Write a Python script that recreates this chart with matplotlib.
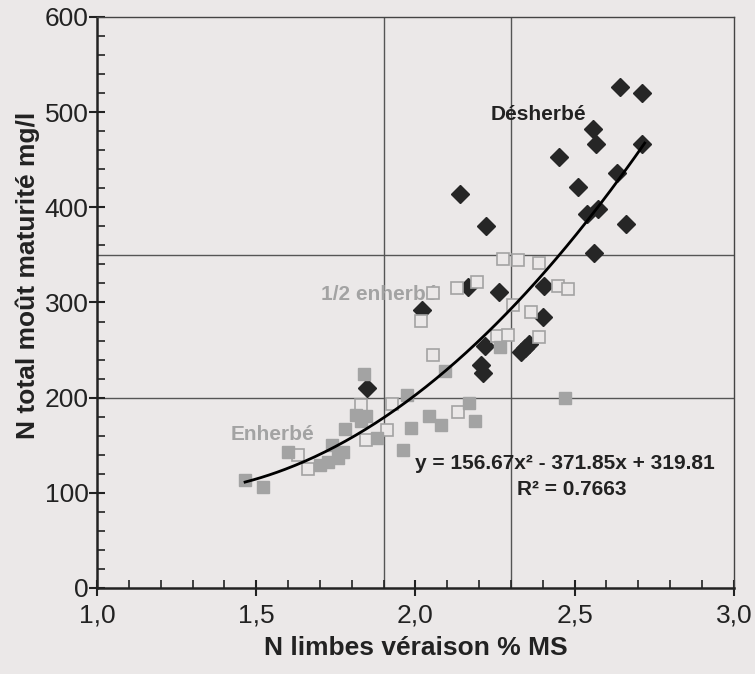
import numpy as np
import matplotlib
matplotlib.use("Agg")
import matplotlib.pyplot as plt
from matplotlib.ticker import MultipleLocator, FuncFormatter

plt.rcParams['font.family'] = ['Liberation Sans', 'DejaVu Sans']

# Désherbé (losanges noirs)
desherbe_x = [2.642, 2.711, 2.557, 2.567, 2.711, 2.451, 2.633, 2.510, 2.140, 2.538,
              2.573, 2.661, 2.221, 2.560, 2.165, 2.262, 2.403, 2.400, 2.218, 2.205,
              2.213, 2.331, 2.345, 2.358, 2.020, 1.848]
desherbe_y = [526, 520, 482, 467, 467, 453, 436, 421, 414, 393,
              398, 382, 380, 352, 316, 311, 317, 285, 254, 234,
              226, 248, 252, 256, 292, 210]

# 1/2 enherbé (carrés vides)
demi_x = [2.275, 2.322, 2.388, 2.193, 2.130, 2.447, 2.479, 2.306, 2.362, 2.256,
          2.290, 2.388, 2.055, 2.017, 2.055, 1.829, 1.926, 1.910, 1.845, 2.133,
          1.631, 1.663]
demi_y = [346, 345, 341, 322, 315, 317, 314, 297, 290, 265,
          266, 264, 310, 281, 245, 192, 193, 166, 155, 185,
          140, 125]

# Enherbé (carrés gris pleins)
enherbe_x = [1.465, 1.521, 1.600, 1.700, 1.725, 1.757, 1.772, 1.738, 1.779, 1.813,
             1.845, 1.830, 1.879, 1.960, 1.986, 1.973, 2.042, 2.080, 2.168, 2.187,
             2.470, 2.265, 2.093, 1.840]
enherbe_y = [113, 106, 143, 129, 132, 137, 143, 150, 167, 182,
             181, 176, 158, 145, 168, 203, 181, 171, 194, 176,
             200, 253, 228, 225]

# courbe de tendance polynomiale
coef = [156.67, -371.85, 319.81]
x_min, x_max = 1.465, 2.72

fond = '#ebe8e8'
gris = '#a3a3a3'
noir = '#222222'

fig = plt.figure(figsize=(7.55, 6.74), dpi=100, facecolor=fond)
ax = fig.add_axes([0.1285, 0.1276, 0.8435, 0.8472], facecolor=fond)

# lignes de repère
for xv in [1.9, 2.3]:
    ax.axvline(xv, color='#555555', lw=1, zorder=1)
for yv in [200, 350]:
    ax.axhline(yv, color='#555555', lw=1, zorder=1)

ax.plot(desherbe_x, desherbe_y, 'D', ms=9, color='#262626', mec='#262626', zorder=3)
ax.plot(demi_x, demi_y, 's', ms=8.5, mfc=fond, mec=gris, mew=1.2, zorder=4)
ax.plot(enherbe_x, enherbe_y, 's', ms=8.5, mfc=gris, mec=gris, zorder=5)

xs = np.linspace(x_min, x_max, 200)
ax.plot(xs, np.polyval(coef, xs), color='black', lw=2, zorder=6)

ax.set_xlim(1.0, 3.0)
ax.set_ylim(0, 600)
ax.xaxis.set_major_locator(MultipleLocator(0.5))
ax.xaxis.set_minor_locator(MultipleLocator(0.1))
ax.yaxis.set_major_locator(MultipleLocator(100))
ax.yaxis.set_minor_locator(MultipleLocator(20))
ax.xaxis.set_major_formatter(FuncFormatter(lambda v, p: f'{v:.1f}'.replace('.', ',')))

ax.tick_params(which='major', direction='inout', length=12, width=1.5, labelsize=19,
               colors=noir)
ax.tick_params(axis='x', which='major', pad=5)
ax.tick_params(axis='y', which='major', pad=0)
ax.tick_params(which='minor', direction='in', length=6, width=1.2, colors=noir)
ax.tick_params(top=False, right=False, which='both')

for s in ['left', 'bottom']:
    ax.spines[s].set_linewidth(1.8)
    ax.spines[s].set_color(noir)
for s in ['top', 'right']:
    ax.spines[s].set_linewidth(1)
    ax.spines[s].set_color('#444444')

ax.set_xlabel('N limbes véraison % MS', fontsize=19, fontweight='bold', color=noir, labelpad=6)
ax.set_ylabel('N total moût maturité mg/l', fontsize=19, fontweight='bold', color=noir)
ax.yaxis.set_label_coords(-0.09, 0.548)

ax.text(2.385, 498, 'Désherbé', fontsize=15, fontweight='bold', color=noir, ha='center', va='center')
ax.text(1.885, 308, '1/2 enherbé', fontsize=15, fontweight='bold', color=gris, ha='center', va='center')
ax.text(1.55, 161, 'Enherbé', fontsize=15, fontweight='bold', color=gris, ha='center', va='center')
ax.text(2.47, 131, 'y = 156.67x² - 371.85x + 319.81', fontsize=15, fontweight='bold',
        color=noir, ha='center', va='center')
ax.text(2.49, 103, 'R² = 0.7663', fontsize=15, fontweight='bold', color=noir,
        ha='center', va='center')

fig.savefig('out.png', dpi=100, facecolor=fond)
